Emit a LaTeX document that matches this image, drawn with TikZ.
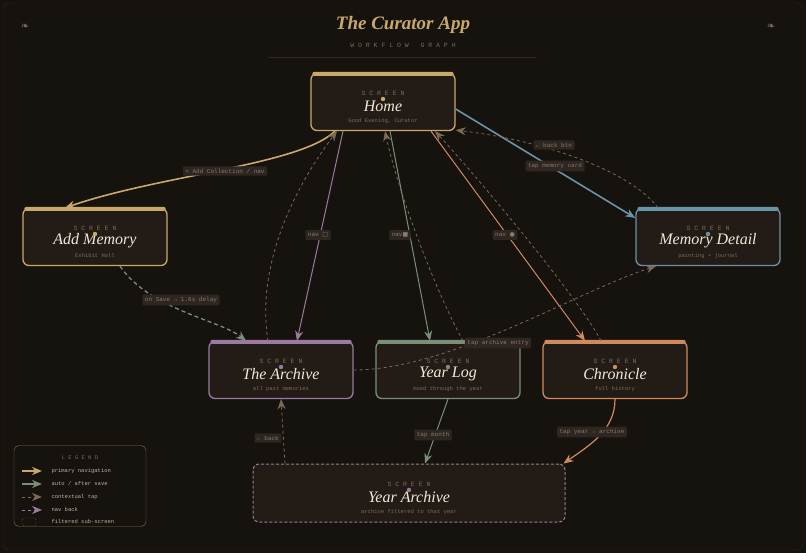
\documentclass[tikz,border=0pt]{standalone}
\usepackage{fontspec}
\setmainfont{Liberation Serif}
\setmonofont{Liberation Mono}
\newfontfamily\symf{DejaVu Sans}
\usetikzlibrary{arrows.meta}
\definecolor{bg}{HTML}{16120E}
\definecolor{boxf}{HTML}{231C16}
\definecolor{gold}{HTML}{C9A96A}
\definecolor{purp}{HTML}{9A7A9E}
\definecolor{grn}{HTML}{7B8F78}
\definecolor{org}{HTML}{D08A5E}
\definecolor{blu}{HTML}{6A93A8}
\definecolor{lblf}{HTML}{2E2620}
\definecolor{lblt}{HTML}{8A7A68}
\definecolor{dim}{HTML}{7A6A58}
\definecolor{ttl}{HTML}{F2E8D8}
\tikzset{
 x=1pt,y=-1pt,
 scr/.style={draw=#1,line width=1.3pt,rounded corners=6pt,fill=boxf,minimum height=57pt,minimum width=144pt,inner sep=0pt},
 lbl/.style={fill=lblf,text=lblt,font=\ttfamily\fontsize{6}{7}\selectfont,inner sep=2.5pt,rounded corners=1pt},
 tip/.style={-{Stealth[length=10pt,width=8pt]}},
 dsh/.style={dash pattern=on 3pt off 3pt},
}
\newcommand{\scrtext}[4]{%
 \node[font=\ttfamily\fontsize{6.5}{7}\selectfont,text=dim] at ([yshift=9pt]#1.center) {S C R E E N};
 \node[font=\itshape\fontsize{16}{18}\selectfont,text=ttl] at ([yshift=-4pt]#1.center) {#2};
 \node[font=\ttfamily\fontsize{5.5}{7}\selectfont,text=dim] at ([yshift=-19pt]#1.center) {#3};
 \fill[#4] ([yshift=3pt]#1.center) circle (2.2pt);
}
\newcommand{\topband}[2]{\fill[#2,rounded corners=2pt] ([xshift=2pt,yshift=1pt]#1.north west) rectangle ([xshift=-2pt,yshift=-3pt]#1.north east);}
\begin{document}
\begin{tikzpicture}
\useasboundingbox (0,0) rectangle (806,553);
\fill[bg] (0,0) rectangle (806,553);
\draw[lblf,rounded corners=6pt] (3,3) rectangle (803,550);
\node[font=\itshape\bfseries\fontsize{19}{22}\selectfont,text=gold] (title) at (403,25) {The Curator App};
\node[font=\ttfamily\fontsize{6.5}{8}\selectfont,text=dim] (sub) at (403,45) {W O R K F L O W \ \ G R A P H};
\draw[lblf] (268,57) -- (536,57);
\node[text=dim,font=\symf\fontsize{10}{10}\selectfont] (o1) at (25,27) {❧};
\node[text=dim,font=\symf\fontsize{10}{10}\selectfont] (o2) at (771,27) {❧};

\node[scr=gold] (home) at (383,102) {};
\node[scr=gold] (add) at (95,237) {};
\node[scr=blu] (md) at (708,237) {};
\node[scr=purp] (arc) at (281,370) {};
\node[scr=grn] (yl) at (448,370) {};
\node[scr=org] (chr) at (615,370) {};
\node[scr=purp,dash pattern=on 3pt off 2pt,line width=1pt,minimum width=312pt,minimum height=58pt] (ya) at (409,493) {};
\topband{home}{gold}\topband{add}{gold}\topband{md}{blu}\topband{arc}{purp}\topband{yl}{grn}\topband{chr}{org}
\scrtext{home}{Home}{Good Evening, Curator}{gold}
\scrtext{add}{Add Memory}{Exhibit Hall}{gold}
\scrtext{md}{Memory Detail}{painting + journal}{blu}
\scrtext{arc}{The Archive}{all past memories}{purp}
\scrtext{yl}{Year Log}{mood through the year}{grn}
\scrtext{chr}{Chronicle}{full history}{org}
\scrtext{ya}{Year Archive}{archive filtered to that year}{purp}

% connectors
\draw[gold,line width=1.6pt,tip] ([xshift=-48pt]home.south) .. controls (300,165) and (160,175) .. ([xshift=-30pt]add.north);
\node[lbl] (l1) at (225,171) {+ Add Collection / nav};
\draw[purp,line width=1pt,tip] ([xshift=-40pt]home.south) -- ([xshift=16pt]arc.north);
\node[lbl] (l2) at (318,235) {nav {\symf□}};
\draw[dim,line width=0.8pt,dsh,tip] ([xshift=-13pt]arc.north) .. controls (255,260) and (300,180) .. ([xshift=-46pt]home.south);
\draw[grn,line width=1pt,tip] ([xshift=7pt]home.south) -- ([xshift=-18pt]yl.north);
\draw[dim,line width=0.8pt,dsh,tip] ([xshift=15pt]yl.north) .. controls (440,300) and (400,200) .. ([xshift=2pt]home.south);
\node[lbl] (l3) at (400,235) {nav{\symf■}};
\draw[org,line width=1pt,tip] ([xshift=48pt]home.south) -- ([xshift=-30pt]chr.north);
\draw[dim,line width=0.8pt,dsh,tip] ([xshift=-14pt]chr.north) .. controls (580,300) and (480,180) .. ([xshift=52pt]home.south);
\node[lbl] (l4) at (505,235) {nav {\symf●}};
\draw[blu,line width=1.6pt,tip] ([yshift=-7pt]home.east) -- ([yshift=19pt]md.west);
\node[lbl] (l5) at (555,166) {tap memory card};
\draw[dim,line width=0.8pt,dsh,tip] ([xshift=-50pt]md.north) .. controls (630,170) and (540,140) .. ([yshift=1pt]home.south east);
\node[lbl] (l6) at (554,145) {← back btn};
\draw[grn,line width=1.3pt,dash pattern=on 4pt off 3pt,tip] ([xshift=25pt]add.south) .. controls (150,310) and (220,320) .. ([xshift=-35pt]arc.north);
\node[lbl] (l7) at (181,300) {on Save → 1.6s delay};
\draw[dim,line width=0.8pt,dsh,tip] (arc.east) .. controls (450,370) and (580,290) .. ([xshift=-52pt]md.south);
\node[lbl] (l8) at (498,343) {tap archive entry};
\draw[grn,line width=1pt,tip] (yl.south) -- ([xshift=16pt]ya.north);
\node[lbl] (l9) at (433,435) {tap month};
\draw[org,line width=1.2pt,tip] (chr.south) .. controls (615,430) and (590,445) .. ([xshift=-2pt]ya.north east);
\node[lbl] (l10) at (592,432) {tap year → archive};
\draw[dim,line width=0.8pt,dsh,tip] ([xshift=-124pt]ya.north) -- (arc.south);
\node[lbl] (l11) at (268,438) {← back};

% legend
\node[draw=gold!60!bg,rounded corners=5pt,fill=bg,minimum width=132pt,minimum height=81pt] (leg) at (80,486) {};
\node[font=\ttfamily\fontsize{5.5}{7}\selectfont,text=dim] (lt) at (80,458) {L E G E N D};
\coordinate (a1) at (22,471); \coordinate (b1) at (42,471);
\coordinate (a2) at (22,484); \coordinate (b2) at (42,484);
\coordinate (a3) at (22,497); \coordinate (b3) at (42,497);
\coordinate (a4) at (22,510); \coordinate (b4) at (42,510);
\draw[gold,line width=1.8pt,tip] (a1) -- (b1);
\draw[grn,line width=1.8pt,tip] (a2) -- (b2);
\draw[dim,line width=0.9pt,dsh,tip] (a3) -- (b3);
\draw[purp,line width=0.9pt,dsh,tip] (a4) -- (b4);
\draw[dim,dash pattern=on 1.5pt off 1.5pt,rounded corners=2pt] (22,518) rectangle (36,526);
\tikzset{lg/.style={font=\ttfamily\fontsize{5.5}{7}\selectfont,text=ttl!75!bg,anchor=west}}
\node[lg] (t1) at (48,471) {primary navigation};
\node[lg] (t2) at (48,484) {auto / after save};
\node[lg] (t3) at (48,497) {contextual tap};
\node[lg] (t4) at (48,510) {nav back};
\node[lg] (t5) at (48,522) {filtered sub-screen};
\end{tikzpicture}
\end{document}
